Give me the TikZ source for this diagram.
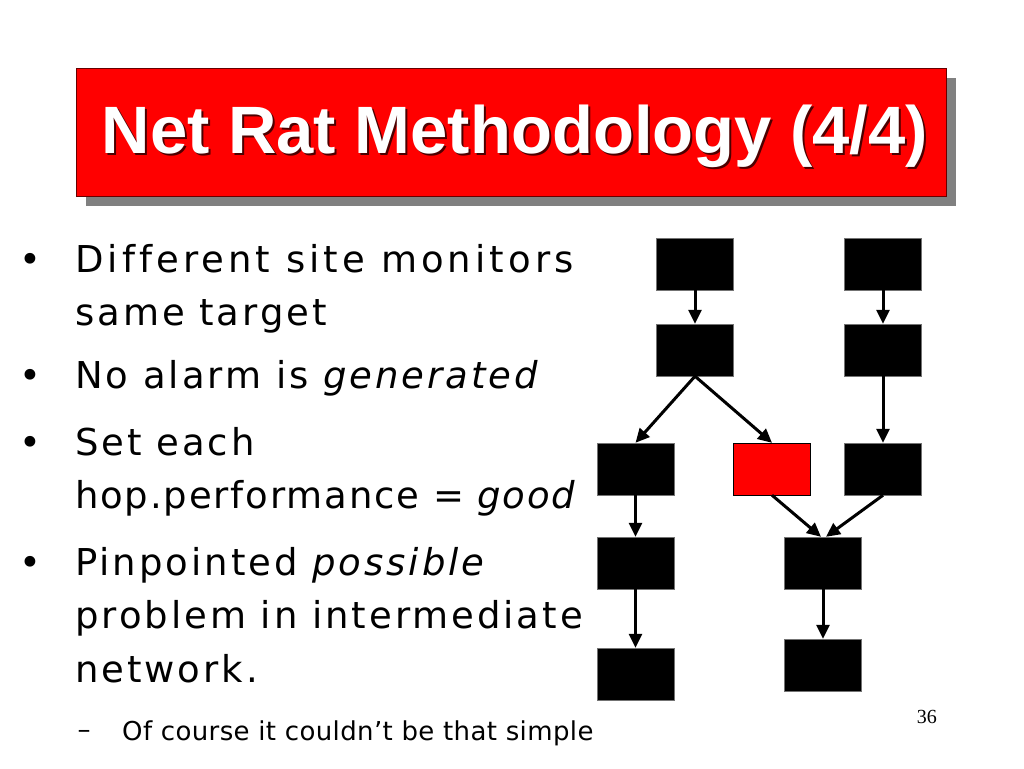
\documentclass[tikz,border=0pt]{standalone}
\usepackage{fontspec}
\setmainfont{DejaVu Sans}
\newfontfamily\slidefont[LetterSpace=8, Ligatures=NoCommon]{DejaVu Sans}
\newfontfamily\headfont{Liberation Sans}
\newfontfamily\numfont{Liberation Serif}
\usetikzlibrary{positioning, arrows.meta, shadows}

\begin{document}
\begin{tikzpicture}[x=1pt, y=-1pt,
    hop/.style={rectangle, draw=black!55, fill=black, minimum width=77pt, minimum height=52pt, inner sep=0pt},
    link/.style={-{Triangle[length=14pt, width=13pt]}, line width=3pt},
    txt/.style={anchor=base west, inner sep=0pt, font=\slidefont\fontsize{37}{44}\selectfont},
    dot/.style={anchor=base, inner sep=0pt, font=\slidefont\fontsize{37}{44}\selectfont}]
  \useasboundingbox (0,0) rectangle (1024,768);

  \node[rectangle, draw=black!60!red, fill=red, minimum width=870pt, minimum height=128pt, drop shadow={shadow xshift=9pt, shadow yshift=-10pt, fill=gray, opacity=1}] (title) at (511.5, 131.7) {};
  \node[anchor=base, inner sep=0pt, text=black!70!red, font=\headfont\bfseries\fontsize{67}{70}\selectfont] (titleshadow) at (517, 155) {Net Rat Methodology (4/4)};
  \node[anchor=base, inner sep=0pt, text=white, font=\headfont\bfseries\fontsize{67}{70}\selectfont] (titletext) at (515, 153) {Net Rat Methodology (4/4)};

  \node[dot] (m1) at (30, 272) {\textbullet};
  \node[txt] (l1) at (75, 272) {\addfontfeature{LetterSpace=11}Different site monitors};
  \node[txt] (l2) at (75, 325) {same target};
  \node[dot] (m2) at (30, 388) {\textbullet};
  \node[txt] (l3) at (75, 388) {No alarm is \textit{generated}};
  \node[dot] (m3) at (30, 455) {\textbullet};
  \node[txt] (l4) at (75, 455) {Set each};
  \node[txt] (l5) at (75, 508) {\addfontfeature{LetterSpace=5}hop.performance = \textit{good}};
  \node[dot] (m4) at (30, 575) {\textbullet};
  \node[txt] (l6) at (75, 575) {Pinpointed \textit{possible}};
  \node[txt] (l7) at (75, 628) {problem in intermediate};
  \node[txt] (l8) at (75, 682) {network.};
  \node[anchor=base, inner sep=0pt, font=\slidefont\fontsize{26}{30}\selectfont] (sub) at (84, 738) {–};
  \node[anchor=base west, inner sep=0pt, font=\slidefont\fontsize{26}{30}\selectfont\addfontfeature{LetterSpace=1.5}] (l9) at (122, 740) {Of course it couldn’t be that simple};

  \node[anchor=base east, inner sep=0pt, font=\numfont\fontsize{20}{24}\selectfont] (page) at (937, 723) {36};

  \node[hop] (a1) at (695, 264) {};
  \node[hop] (b1) at (883, 264) {};
  \node[hop] (a2) at (695, 350) {};
  \node[hop] (b2) at (883, 350) {};
  \node[hop] (c1) at (635.5, 469) {};
  \node[hop, fill=red, draw=black] (bad) at (772, 469) {};
  \node[hop] (c2) at (883, 469) {};
  \node[hop] (d1) at (635.5, 563) {};
  \node[hop] (d2) at (823, 563) {};
  \node[hop] (e1) at (635.5, 674) {};
  \node[hop] (e2) at (823, 665) {};

  \draw[link] (a1) -- (a2);
  \draw[link] (b1) -- (b2);
  \draw[link] (a2.south) -- (c1.north);
  \draw[link] (a2.south) -- (bad.north);
  \draw[link] (b2) -- (c2);
  \draw[link] (c1) -- (d1);
  \draw[link] (bad.south) -- ([xshift=-2pt]d2.north);
  \draw[link] (c2.south) -- ([xshift=3pt]d2.north);
  \draw[link] (d1) -- (e1);
  \draw[link] (d2) -- (e2);
\end{tikzpicture}
\end{document}
